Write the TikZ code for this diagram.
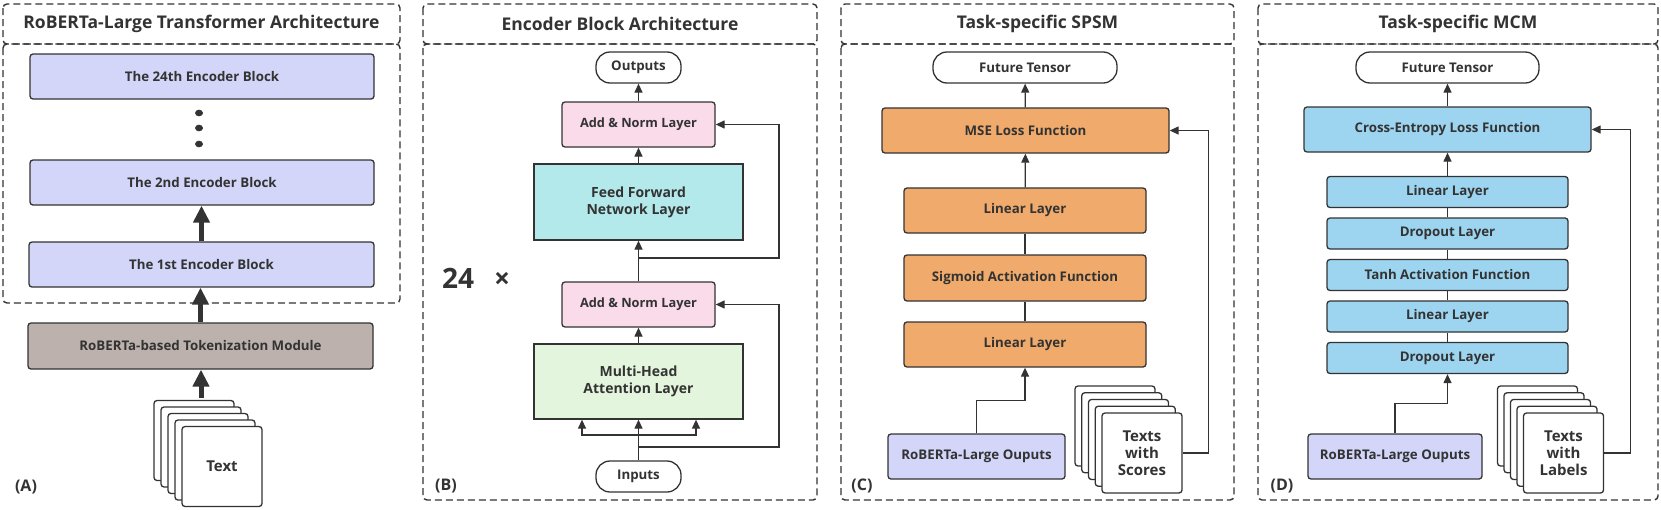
\documentclass[tikz,border=0pt]{standalone}
\usepackage{fontspec}
\setmainfont{Open Sans}
\usetikzlibrary{arrows.meta,calc}

\definecolor{ink}{HTML}{333333}
\definecolor{lavender}{HTML}{D3D6F8}
\definecolor{tokfill}{HTML}{BCB1AC}
\definecolor{pinkfill}{HTML}{F9DBEA}
\definecolor{cyanfill}{HTML}{B3E9EA}
\definecolor{greenfill}{HTML}{E3F5DC}
\definecolor{orangefill}{HTML}{F0AA6B}
\definecolor{bluefill}{HTML}{9DD5F1}

\begin{document}
\begin{tikzpicture}[x=1pt,y=-1pt,
    every node/.style={font=\bfseries\fontsize{13.3}{16}\selectfont, text=ink},
    layer/.style={draw=ink, line width=1.3pt, rounded corners=3pt, fill=#1, inner sep=0pt},
    twoline/.style={align=center, font=\bfseries\fontsize{14}{17}\selectfont},
    term/.style={draw=ink, line width=1.3pt, rounded corners=14pt, fill=white, inner sep=0pt,
      minimum height=31pt},
    page/.style={draw=ink, line width=1.3pt, rounded corners=3pt, fill=white, inner sep=0pt,
      minimum width=80pt, minimum height=80pt, align=center, font=\bfseries\fontsize{15}{17}\selectfont},
    frame/.style={draw=ink, line width=1.4pt, dash pattern=on 7pt off 4pt, rounded corners=4pt},
    title/.style={font=\bfseries\fontsize{17.5}{20}\selectfont},
    lbl/.style={font=\bfseries\fontsize{16}{18}\selectfont},
    arr/.style={draw=ink, line width=1.3pt, -{Triangle[length=9pt,width=8pt]}},
    line/.style={draw=ink, line width=1.3pt},
    bigarr/.style={draw=ink, line width=5pt, -{Triangle[length=17pt,width=16pt]}}]
  \fill[white] (0,0) rectangle (1661,509);
  \useasboundingbox (0,0) rectangle (1661,509);

  % (A) RoBERTa-Large
  \draw[frame] (3,4) rectangle (400,44);
  \draw[frame] (3,44) rectangle (400,303);
  \node[title] (titA) at (201.5,24) {RoBERTa-Large Transformer Architecture};
  \node[layer=lavender, minimum width=344pt, minimum height=45pt] (enc24) at (202,76.5) {The 24th Encoder Block};
  \fill[ink] (199,113) ellipse[x radius=4pt, y radius=3.3pt] (199,128) ellipse[x radius=4pt, y radius=3.3pt]
    (199,144) ellipse[x radius=4pt, y radius=3.3pt];
  \node[layer=lavender, minimum width=344pt, minimum height=45pt] (enc2) at (202,182.5) {The 2nd Encoder Block};
  \node[layer=lavender, minimum width=345pt, minimum height=45pt] (enc1) at (201.5,264.5) {The 1st Encoder Block};
  \node[layer=tokfill, minimum width=345pt, minimum height=46pt] (tok) at (200.5,346) {RoBERTa-based Tokenization Module};
  \coordinate (stA) at (222,466.5);
  \foreach \i in {4,3,2,1}
    \node[page] (pgA\i) at ($(stA)+(-7*\i,-6.5*\i)$) {};
  \node[page] (txtA) at (stA) {Text};
  \coordinate (inA) at (201,398);
  \draw[bigarr] (inA) -- (inA |- tok.south);
  \draw[bigarr] (tok.north) -- (tok.north |- enc1.south);
  \draw[bigarr] (enc1.north) -- (enc1.north |- enc2.south);
  \node[lbl] (labA) at (26,487) {(A)};

  % (B) Encoder block
  \draw[frame] (423,4) rectangle (817,44);
  \draw[frame] (423,44) rectangle (817,500);
  \node[title] (titB) at (620,24) {Encoder Block Architecture};
  \node[term, minimum width=85pt] (outB) at (638.5,67.5) {Outputs};
  \node[layer=pinkfill, minimum width=153pt, minimum height=45pt, font=\bfseries\fontsize{12.8}{15}\selectfont]
    (addB1) at (638.5,124.5) {Add \& Norm Layer};
  \node[layer=cyanfill, minimum width=209pt, minimum height=76pt, rounded corners=0pt, twoline]
    (ffn) at (638.5,202) {Feed Forward\\Network Layer};
  \node[layer=pinkfill, minimum width=153pt, minimum height=45pt, font=\bfseries\fontsize{12.8}{15}\selectfont]
    (addB2) at (638.5,304.5) {Add \& Norm Layer};
  \node[layer=greenfill, minimum width=209pt, minimum height=75pt, rounded corners=0pt, twoline]
    (mha) at (638.5,381.5) {Multi-Head\\Attention Layer};
  \node[term, minimum width=85pt] (inB) at (638.5,476.5) {Inputs};
  \coordinate (splB) at (638.5,435);
  \coordinate (resB1) at (638.5,447);
  \coordinate (resB2) at (638.5,258);
  \draw[arr] (inB) -- (mha);
  \draw[arr] (splB) -| ([xshift=-56.5pt]mha.south);
  \draw[arr] (splB) -| ([xshift=57.5pt]mha.south);
  \draw[arr] (resB1) -- ++(140.5,0) |- (addB2.east);
  \draw[arr] (mha) -- (addB2);
  \draw[arr] (addB2) -- (ffn);
  \draw[arr] (resB2) -- ++(140.5,0) |- (addB1.east);
  \draw[arr] (ffn) -- (addB1);
  \draw[arr] (addB1) -- (outB);
  \node[font=\bfseries\fontsize{28}{30}\selectfont] (rep) at (476,278) {24\hspace{20pt}×};
  \node[lbl] (labB) at (446,486) {(B)};

  % (C) SPSM head
  \draw[frame] (841,4) rectangle (1234,44);
  \draw[frame] (841,44) rectangle (1234,500);
  \node[title] (titC) at (1037.5,24) {Task-specific SPSM};
  \node[term, minimum width=184pt] (futC) at (1025,67.5) {Future Tensor};
  \node[layer=orangefill, minimum width=287pt, minimum height=45pt] (mse) at (1025.5,130.5) {MSE Loss Function};
  \node[layer=orangefill, minimum width=242pt, minimum height=45pt] (linC1) at (1025,210.5) {Linear Layer};
  \node[layer=orangefill, minimum width=242pt, minimum height=46pt] (sig) at (1025,278) {Sigmoid Activation Function};
  \node[layer=orangefill, minimum width=242pt, minimum height=45pt] (linC2) at (1025,344.5) {Linear Layer};
  \node[layer=lavender, minimum width=177pt, minimum height=45pt] (outC) at (976.5,456.5) {RoBERTa-Large Ouputs};
  \coordinate (stC) at (1142,453);
  \foreach \i in {4,3,2,1}
    \node[page] (pgC\i) at ($(stC)+(-6.75*\i,-6.75*\i)$) {};
  \node[page] (txtC) at (stC) {Texts\\with\\Scores};
  \draw[arr] (outC.north) -- ++(0,-33) -| (linC2.south);
  \draw[line] (linC2) -- (sig);
  \draw[line] (sig) -- (linC1);
  \draw[arr] (linC1) -- (mse);
  \draw[arr] (mse) -- (futC);
  \draw[arr] (txtC.east) -- ++(26,0) |- (mse.east);
  \node[lbl] (labC) at (862,486) {(C)};

  % (D) MCM head
  \draw[frame] (1258,4) rectangle (1658,44);
  \draw[frame] (1258,44) rectangle (1658,500);
  \node[title] (titD) at (1458,24) {Task-specific MCM};
  \node[term, minimum width=183pt] (futD) at (1447.5,67.5) {Future Tensor};
  \node[layer=bluefill, minimum width=287pt, minimum height=45pt] (ce) at (1447.5,129.5) {Cross-Entropy Loss Function};
  \node[layer=bluefill, minimum width=241pt, minimum height=31pt] (linD1) at (1447.5,192) {Linear Layer};
  \node[layer=bluefill, minimum width=241pt, minimum height=31pt] (dropD1) at (1447.5,233.5) {Dropout Layer};
  \node[layer=bluefill, minimum width=241pt, minimum height=31pt] (tanh) at (1447.5,275) {Tanh Activation Function};
  \node[layer=bluefill, minimum width=241pt, minimum height=31pt] (linD2) at (1447.5,316.5) {Linear Layer};
  \node[layer=bluefill, minimum width=241pt, minimum height=31pt] (dropD2) at (1447.5,358) {Dropout Layer};
  \node[layer=lavender, minimum width=174pt, minimum height=45pt] (outD) at (1395,456.5) {RoBERTa-Large Ouputs};
  \coordinate (stD) at (1563.5,453);
  \foreach \i in {4,3,2,1}
    \node[page] (pgD\i) at ($(stD)+(-6.5*\i,-6.75*\i)$) {};
  \node[page] (txtD) at (stD) {Texts\\with\\Labels};
  \draw[arr] (outD.north) -- ++(0,-30) -| (dropD2.south);
  \draw[line] (dropD2) -- (linD2);
  \draw[line] (linD2) -- (tanh);
  \draw[line] (tanh) -- (dropD1);
  \draw[line] (dropD1) -- (linD1);
  \draw[arr] (linD1) -- (ce);
  \draw[arr] (ce) -- (futD);
  \draw[arr] (txtD.east) -- ++(26,0) |- (ce.east);
  \node[lbl] (labD) at (1282,486) {(D)};
\end{tikzpicture}
\end{document}
